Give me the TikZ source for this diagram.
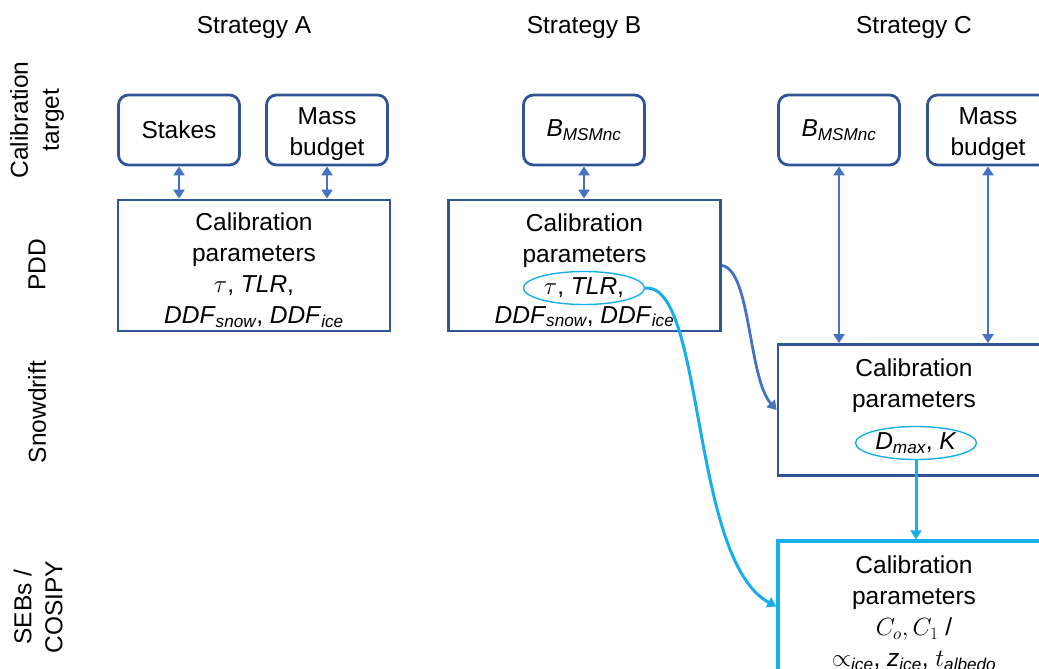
\documentclass[tikz,border=0pt]{standalone}
\usepackage{amsmath}
\usepackage{fontspec}
\setmainfont{Liberation Sans}
\usetikzlibrary{arrows.meta,shapes.geometric}
\definecolor{boxblue}{HTML}{2F5597}
\definecolor{arrblue}{HTML}{4472C4}
\definecolor{cyanb}{HTML}{16AEEB}
\begin{document}
\begin{tikzpicture}[x=1pt,y=-1pt,
  every node/.style={font=\fontsize{24.5}{31}\selectfont, text=black, inner sep=0pt},
  target/.style={draw=boxblue, line width=2.8pt, rounded corners=10pt, minimum width=121pt, minimum height=70pt, align=center},
  calib/.style={draw=boxblue, line width=2.8pt, minimum width=272pt, minimum height=131pt},
  calibc/.style={draw=cyanb, line width=3.3pt, minimum width=272pt, minimum height=131pt},
  txt/.style={align=center, anchor=north},
  oval/.style={draw=cyanb, line width=1.4pt, ellipse, minimum width=121pt, minimum height=33pt},
  rowlab/.style={rotate=90, align=center},
  arr/.style={draw=arrblue, line width=2.8pt, -{Triangle[length=9pt,width=11pt]}},
  darr/.style={draw=arrblue, line width=2.8pt, {Triangle[length=9pt,width=11pt]}-{Triangle[length=9pt,width=11pt]}},
  carr/.style={draw=cyanb, line width=3pt, -{Triangle[length=9pt,width=11pt]}}
]
\useasboundingbox (0,0) rectangle (1039,669);
\clip (0,0) rectangle (1039,669);

% column titles
\node (hA) at (254,27) {Strategy A};
\node (hB) at (584,27) {Strategy B};
\node (hC) at (914,27) {Strategy C};

% row labels
\node[rowlab] (r1) at (37,120) {Calibration\\target};
\node[rowlab] (r2) at (37,265) {PDD};
\node[rowlab] (r3) at (37,412) {Snowdrift};
\node[rowlab] (r4) at (38,607) {SEBs /\\COSIPY};

% Strategy A
\node[target] (stA) at (179,130) {Stakes};
\node[target] (mbA) at (327,130) {};
\node[align=center] (mbAt) at (327,134) {Mass\\budget};
\node[calib] (calA) at (254,265.5) {};
\node[txt] (tA) at (254,213) {Calibration\\parameters\\$\tau$, \textit{TLR},\\\textit{DDF}$_{\textit{snow}}$, \textit{DDF}$_{\textit{ice}}$};
\draw[darr] (stA.south) -- (stA.south |- calA.north);
\draw[darr] (mbA.south) -- (mbA.south |- calA.north);

% Strategy B
\node[target] (bmB) at (584,130) {\textit{B}$_{\textit{MSMnc}}$};
\node[calib] (calB) at (584.5,265.5) {};
\node[txt] (tB) at (584.5,214) {Calibration\\parameters};
\node[oval] (eB) at (584,288) {$\tau$, \textit{TLR},};
\node[txt] (tB2) at (584.5,306) {\textit{DDF}$_{\textit{snow}}$, \textit{DDF}$_{\textit{ice}}$};
\draw[darr] (bmB.south) -- (bmB.south |- calB.north);

% Strategy C
\node[target] (bmC) at (839,130) {\textit{B}$_{\textit{MSMnc}}$};
\node[target] (mbC) at (988,130) {};
\node[align=center] (mbCt) at (988,134) {Mass\\budget};
\node[calib] (snow) at (914,410) {};
\node[txt] (tS) at (914,359) {Calibration\\parameters};
\node[oval] (eS) at (916,443) {\textit{D}$_{\textit{max}}$, \textit{K}};
\node[calibc] (seb) at (914,606.5) {};
\node[txt] (tE) at (914,556) {Calibration\\parameters\\$C_o, C_1$ /\\$\propto_{\textit{ice}}$, \textit{z}$_{\textit{ice}}$, $t_{\textit{albedo}}$};
\draw[darr] (bmC.south) -- (bmC.south |- snow.north);
\draw[darr] (mbC.south) -- (mbC.south |- snow.north);

% curved connectors
\draw[arr] (calB.east) .. controls (751,270) and (748,378) .. (snow.west);
\draw[carr] (eB.east) .. controls (705,283) and (690,560) .. (seb.west);
\draw[carr] (eS.south) -- (eS.south |- seb.north);
\end{tikzpicture}
\end{document}
